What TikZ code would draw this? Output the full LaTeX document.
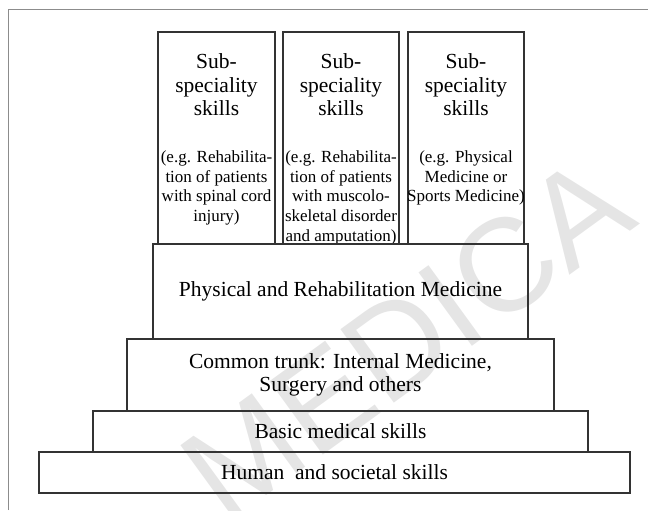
\documentclass[tikz,border=0pt]{standalone}
\usepackage{fontspec}
\setmainfont{Liberation Serif}
\newfontfamily\marksans{Liberation Sans}
\usetikzlibrary{positioning}
\newcommand{\tiersize}{\fontsize{10.75}{11.8}\selectfont}
\newcommand{\notesize}{\fontsize{8.5}{9.8}\selectfont}
\tikzset{tier/.style = {draw = black!80, line width = 0.6pt, inner sep = 0,
                        align = center, font = \tiersize}}
\tikzset{subbox/.style = {tier, minimum width = 58pt, minimum height = 106pt}}
\tikzset{subhead/.style = {inner sep = 0, align = center, font = \tiersize}}
\tikzset{subnote/.style = {inner sep = 0, align = center, font = \notesize}}
\tikzset{frameline/.style = {draw = black!45, line width = 0.75pt}}
\tikzset{watermark/.style = {text = black!10, inner sep = 0, rotate = 36,
                             font = \marksans\fontsize{66}{66}\selectfont}}

\begin{document}
\begin{tikzpicture}[x = 0.5pt, y = -0.5pt]
  \useasboundingbox (0, 0) rectangle (648, 510);
  \node [watermark] (mark) at (406, 338) {MEDICA};
  \draw [frameline] (8.5, 510) -- (8.5, 9.5) -- (648, 9.5);

  % sub-speciality columns
  \node [subbox, minimum width = 58.5pt] (sub1) at (216.5, 138) {};
  \node [subbox] (sub2) at (341, 138) {};
  \node [subbox] (sub3) at (466, 138) {};
  \node [subhead, below = 11pt of sub1.north] (head1) {Sub-\\speciality\\skills};
  \node [subhead, below = 11pt of sub2.north] (head2) {Sub-\\speciality\\skills};
  \node [subhead, below = 11pt of sub3.north] (head3) {Sub-\\speciality\\skills};
  \node [subnote, below = 59.5pt of sub1.north] (note1)
        {(e.g. Rehabilita-\\tion of patients\\with spinal cord\\injury)};
  \node [subnote, below = 59.5pt of sub2.north] (note2)
        {(e.g. Rehabilita-\\tion of patients\\with muscolo-\\skeletal disorder\\and amputation)};
  \node [subnote, below = 59.5pt of sub3.north] (note3)
        {(e.g. Physical\\Medicine or\\Sports Medicine)};

  % the steps
  \node [tier, minimum width = 187.5pt, minimum height = 47.5pt] (prm) at (340.5, 291.5)
        {Physical and Rehabilitation Medicine};
  \node [tier, minimum width = 213.5pt, minimum height = 36pt] (trunk) at (340.5, 375)
        {Common trunk: Internal Medicine,\\Surgery and others};
  \node [tier, minimum width = 247.5pt, minimum height = 20.5pt] (basic) at (340.5, 431.5)
        {Basic medical skills};
  \node [tier, minimum width = 295.5pt, minimum height = 20.5pt] (human) at (334.5, 472.5)
        {Human\ \ and societal skills};
\end{tikzpicture}
\end{document}
